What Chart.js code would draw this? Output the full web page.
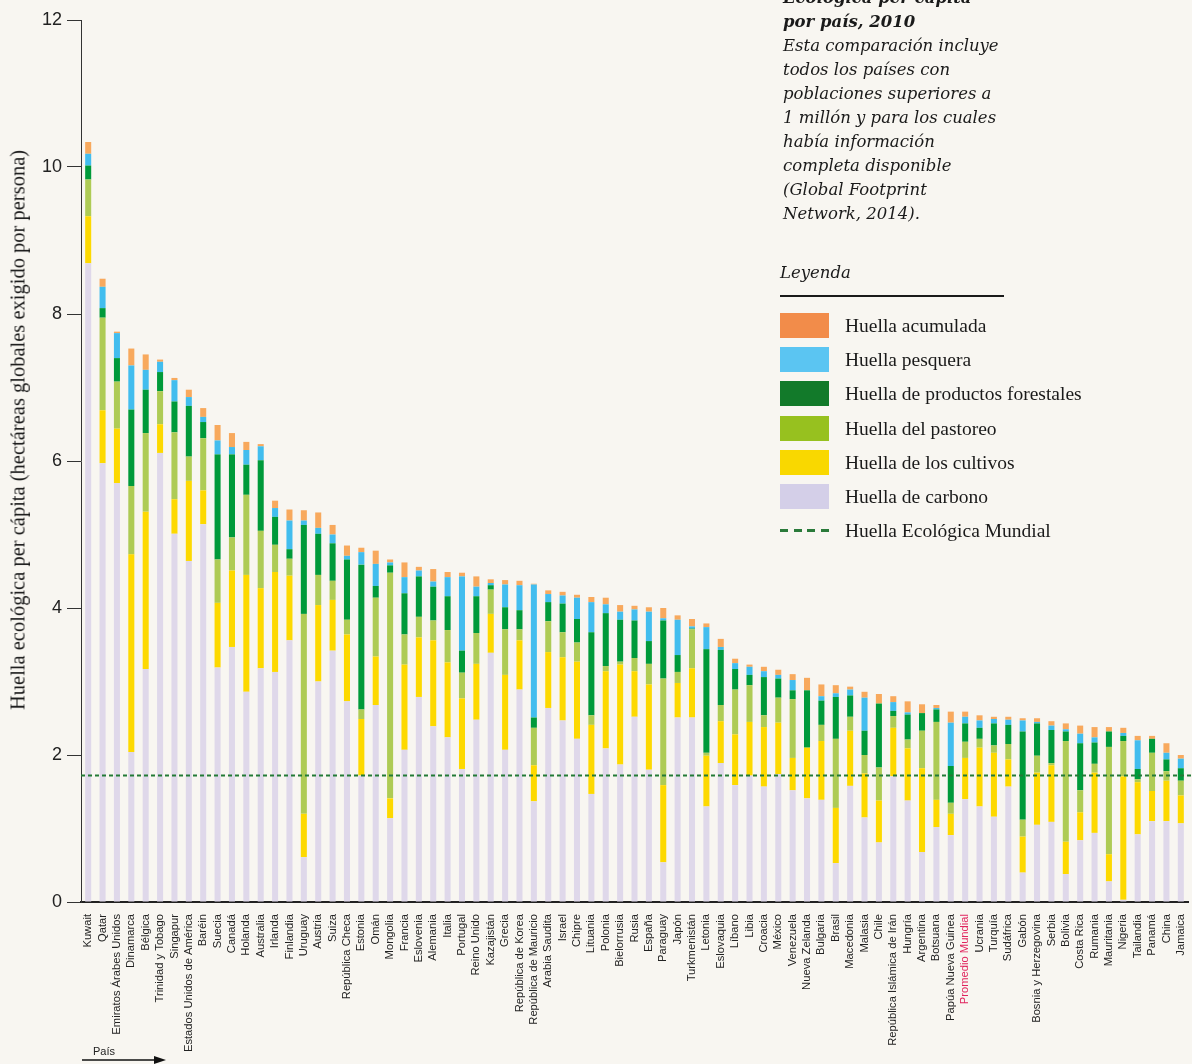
<!DOCTYPE html>
<html>
<head>
<meta charset="utf-8">
<script src="https://cdn.jsdelivr.net/npm/chart.js@4.4.1/dist/chart.umd.min.js"></script>
<style>
body{margin:0;background:#f8f6f1}
#wrap{position:relative;width:1192px;height:1064px;overflow:hidden;background:#f8f6f1}
#chart{position:absolute;left:0;top:0}
#note{position:absolute;left:783px;top:-14px;width:260px;font-family:"DejaVu Serif",serif;font-style:italic;font-size:16.5px;line-height:24px;color:#1a1a1a}
#note b{font-weight:bold}
#legend{position:absolute;left:780px;top:258px;font-family:"Liberation Serif",serif;font-size:19.5px;color:#1a1a1a}
#legend .head{font-family:"DejaVu Serif",serif;font-style:italic;font-size:16.5px;height:30px;line-height:30px}
#legend .rule{width:224px;height:2px;background:#1a1a1a;margin:7px 0 16px 0}
#legend .row{position:relative;height:34.2px}
#legend .sw{position:absolute;left:0;top:0;width:49px;height:25px}
#legend .txt{position:absolute;left:65px;top:0;line-height:25px;white-space:nowrap}
#legend .dash{position:absolute;left:0;top:11px;width:49px;height:3px;background:repeating-linear-gradient(to right,#2a7a3a 0 8px,transparent 8px 13.6px)}
#ytitle{position:absolute;left:18px;top:430px;transform:translate(-50%,-50%) rotate(-90deg);white-space:nowrap;font-family:"Liberation Serif",serif;font-size:20.5px;color:#1a1a1a}
#pais{position:absolute;left:93px;top:1045px;font-family:"Liberation Sans",Arial,sans-serif;font-size:11px;color:#222}
#arrow{position:absolute;left:80px;top:1054px}
</style>
</head>
<body>
<div id="wrap">
<canvas id="chart" width="1192" height="1064"></canvas>
<div id="ytitle">Huella ecológica per cápita (hectáreas globales exigido por persona)</div>
<div id="note">
<b>Ecológica per cápita</b><br>
<b>por país, 2010</b><br>
Esta comparación incluye<br>
todos los países con<br>
poblaciones superiores a<br>
1 millón y para los cuales<br>
había información<br>
completa disponible<br>
(Global Footprint<br>
Network, 2014).
</div>
<div id="legend"></div>
<div id="pais">País</div>
<svg id="arrow" width="90" height="12"><line x1="2" y1="6" x2="78" y2="6" stroke="#111" stroke-width="1.3"/><polygon points="86,6 74,2 74,10" fill="#111"/></svg>
</div>
<script>
const countries = ["Kuwait","Qatar","Emiratos Árabes Unidos","Dinamarca","Bélgica","Trinidad y Tobago","Singapur","Estados Unidos de América","Baréin","Suecia","Canadá","Holanda","Australia","Irlanda","Finlandia","Uruguay","Austria","Suiza","República Checa","Estonia","Omán","Mongolia","Francia","Eslovenia","Alemania","Italia","Portugal","Reino Unido","Kazajistán","Grecia","República de Korea","República de Mauricio","Arabia Saudita","Israel","Chipre","Lituania","Polonia","Bielorrusia","Rusia","España","Paraguay","Japón","Turkmenistán","Letonia","Eslovaquia","Líbano","Libia","Croacia","México","Venezuela","Nueva Zelanda","Bulgaria","Brasil","Macedonia","Malasia","Chile","República Islámica de Irán","Hungría","Argentina","Botsuana","Papúa Nueva Guinea","Promedio Mundial","Ucrania","Turquía","Sudáfrica","Gabón","Bosnia y Herzegovina","Serbia","Bolivia","Costa Rica","Rumania","Mauritania","Nigeria","Tailandia","Panamá","China","Jamaica"]

// hectáreas globales por persona, por componente
const carbono = [8.69,5.97,5.70,2.04,3.17,6.11,5.01,4.64,5.14,3.19,3.47,2.86,3.18,3.13,3.56,0.61,3.00,3.42,2.73,1.72,2.68,1.14,2.07,2.79,2.39,2.24,1.81,2.48,3.39,2.07,2.89,1.37,2.64,2.47,2.22,1.47,2.09,1.87,2.52,1.80,0.54,2.51,2.51,1.30,1.89,1.59,1.72,1.57,1.74,1.52,1.41,1.39,0.53,1.58,1.15,0.81,1.71,1.38,0.68,1.02,0.91,1.40,1.30,1.16,1.57,0.40,1.05,1.09,0.38,0.84,0.94,0.28,0.03,0.92,1.10,1.10,1.07]
const cultivos = [0.64,0.72,0.74,2.69,2.14,0.39,0.47,1.09,0.46,0.88,1.04,1.59,1.09,1.36,0.88,0.59,1.04,0.69,0.91,0.77,0.66,0.27,1.16,0.81,1.17,1.02,0.96,0.76,0.53,1.02,0.67,0.49,0.76,0.86,1.05,0.94,1.05,1.36,0.62,1.16,1.05,0.47,0.67,0.69,0.57,0.69,0.73,0.81,0.70,0.44,0.69,0.80,0.75,0.75,0.60,0.57,0.66,0.71,1.14,0.37,0.29,0.56,0.80,0.87,0.37,0.49,0.71,0.77,0.44,0.38,0.82,0.37,1.68,0.71,0.41,0.55,0.38]
const pastoreo = [0.50,1.26,0.64,0.93,1.07,0.45,0.91,0.33,0.71,0.59,0.45,1.09,0.78,0.37,0.23,2.72,0.41,0.26,0.20,0.13,0.80,3.07,0.41,0.28,0.27,0.44,0.35,0.42,0.33,0.62,0.15,0.51,0.42,0.34,0.26,0.13,0.07,0.04,0.18,0.28,1.45,0.15,0.53,0.04,0.22,0.61,0.50,0.16,0.34,0.80,0,0.22,0.94,0.19,0.25,0.45,0.16,0.12,0.51,1.06,0.15,0.22,0.12,0.10,0.21,0.23,0.23,0.03,1.37,0.30,0.12,1.46,0.48,0.04,0.52,0.13,0.20]
const forestales = [0.19,0.13,0.32,1.04,0.59,0.26,0.42,0.69,0.22,1.43,1.13,0.41,0.96,0.38,0.13,1.21,0.56,0.51,0.82,1.97,0.16,0.10,0.56,0.55,0.46,0.46,0.30,0.50,0.06,0.30,0.26,0.14,0.26,0.39,0.32,1.13,0.72,0.57,0.51,0.31,0.79,0.23,0.01,1.41,0.75,0.28,0.14,0.52,0.26,0.12,0.78,0.33,0.57,0.29,0.33,0.87,0.07,0.34,0.24,0.17,0.50,0.25,0.15,0.30,0.26,1.20,0.44,0.45,0.13,0.64,0.29,0.21,0.07,0.14,0.19,0.16,0.17]
const pesquera = [0.16,0.29,0.34,0.60,0.27,0.14,0.29,0.12,0.07,0.19,0.10,0.20,0.19,0.12,0.39,0.06,0.08,0.12,0.05,0.17,0.30,0.04,0.22,0.08,0.07,0.26,1.01,0.13,0.03,0.31,0.34,1.81,0.11,0.11,0.29,0.41,0.12,0.11,0.15,0.40,0.03,0.48,0.03,0.30,0.04,0.08,0.11,0.08,0.05,0.14,0,0.06,0.05,0.08,0.45,0,0.12,0.03,0,0.02,0.59,0.09,0.10,0.06,0.07,0.15,0.02,0.06,0.03,0.13,0.07,0,0.04,0.39,0,0.09,0.13]
const acumulada = [0.16,0.11,0.02,0.23,0.21,0.03,0.03,0.10,0.12,0.21,0.19,0.11,0.03,0.10,0.15,0.14,0.21,0.13,0.14,0.06,0.18,0.04,0.20,0.05,0.17,0.07,0.05,0.14,0.05,0.06,0.06,0.01,0.05,0.05,0.04,0.07,0.09,0.09,0.05,0.06,0.14,0.06,0.10,0.05,0.11,0.06,0.03,0.06,0.07,0.08,0.17,0.16,0.11,0.04,0.08,0.13,0.08,0.15,0.12,0.04,0.15,0.07,0.07,0.03,0.04,0.03,0.05,0.06,0.08,0.11,0.14,0.06,0.07,0.06,0.04,0.13,0.05]

const huellaMundial = 1.72
const yTicks = [0,2,4,6,8,10,12]
const promedioName = "Promedio Mundial"

const seriesNames = ["Huella de carbono","Huella de los cultivos","Huella del pastoreo","Huella de productos forestales","Huella pesquera","Huella acumulada"]
const seriesData = [carbono,cultivos,pastoreo,forestales,pesquera,acumulada]
const barColors = ["#dfd8ea","#fdd900","#aecb55","#009a3a","#42bdee","#f8a95d"]
const legendColors = ["#d4cfe8","#f9d800","#97c11f","#127a2a","#5bc5f2","#f28c4a"]

// legend, top item = last series
const legend = document.getElementById("legend")
let html = '<div class="head">Leyenda</div><div class="rule"></div>'
for (let i = seriesNames.length - 1; i >= 0; i--) {
    html += '<div class="row"><div class="sw" style="background:' + legendColors[i] + '"></div><div class="txt">' + seriesNames[i] + '</div></div>'
}
html += '<div class="row"><div class="dash"></div><div class="txt">Huella Ecológica Mundial</div></div>'
legend.innerHTML = html

const worldLine = {
    id: "worldLine",
    afterDatasetsDraw(chart) {
        const ctx = chart.ctx
        const y = chart.scales.y.getPixelForValue(huellaMundial)
        const area = chart.chartArea
        ctx.save()
        ctx.strokeStyle = "#237a36"
        ctx.lineWidth = 2
        ctx.setLineDash([4, 3])
        ctx.beginPath()
        ctx.moveTo(area.left, y)
        ctx.lineTo(area.right + 4, y)
        ctx.stroke()
        ctx.restore()
    }
}

const ctx = document.getElementById("chart").getContext("2d")
new Chart(ctx, {
    type: "bar",
    data: {
        labels: countries,
        datasets: seriesData.map((d, i) => ({
            label: seriesNames[i],
            data: d,
            backgroundColor: barColors[i],
            borderWidth: 0,
            barPercentage: 0.42,
            categoryPercentage: 1
        }))
    },
    options: {
        responsive: false,
        animation: false,
        layout: { padding: { top: 20, right: 4, left: 0, bottom: 0 } },
        plugins: { legend: { display: false }, tooltip: { enabled: false } },
        scales: {
            x: {
                stacked: true,
                grid: { display: false },
                border: { color: "#222", width: 2 },
                ticks: {
                    autoSkip: false,
                    maxRotation: 90,
                    minRotation: 90,
                    padding: 4,
                    font: { family: "Liberation Sans, Arial, sans-serif", size: 11.2 },
                    color: (c) => countries[c.index] === promedioName ? "#e0245e" : "#222"
                },
                afterFit: (s) => { s.height = 162; s.paddingLeft = 0; s.paddingRight = 0 }
            },
            y: {
                stacked: true,
                min: 0,
                max: 12,
                afterBuildTicks: (s) => { s.ticks = yTicks.map(v => ({ value: v })) },
                grid: { drawOnChartArea: false, drawTicks: true, tickLength: 14, color: "#333" },
                border: { color: "#333", width: 1 },
                ticks: {
                    padding: 5,
                    font: { family: "Liberation Sans, Arial, sans-serif", size: 18 },
                    color: "#222"
                },
                afterFit: (s) => { s.width = 81 }
            }
        }
    },
    plugins: [worldLine]
})
</script>
</body>
</html>
